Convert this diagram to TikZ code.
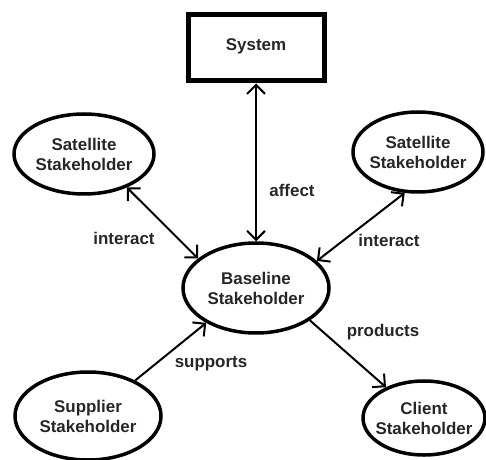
\documentclass[tikz,border=0pt]{standalone}
\usepackage{fontspec}
\setmainfont{Liberation Sans}
\usetikzlibrary{shapes.geometric,arrows.meta}
\begin{document}
\begin{tikzpicture}[x=1bp,y=-1bp,
  ell/.style={draw,ellipse,line width=3.5bp,inner sep=0pt},
  sysbox/.style={draw,rectangle,line width=5bp,inner sep=0pt,minimum width=136bp,minimum height=66bp},
  lbl/.style={font=\fontsize{17}{20}\selectfont\bfseries,align=center,text=black!85,inner sep=0pt},
  conn/.style={line width=2bp,arrows={-Straight Barb[length=9bp,width=18bp,line width=2bp]}},
  bconn/.style={line width=2bp,arrows={Straight Barb[length=9bp,width=18bp,line width=2bp]-Straight Barb[length=9bp,width=18bp,line width=2bp]}}]
\useasboundingbox (0,0) rectangle (486,460);
\node[sysbox] (sys) at (256,48) {};
\node[lbl] (syst) at (256,46) {System};
\node[ell,minimum width=140bp,minimum height=80bp] (ls) at (84,154) {};
\node[lbl] (lst) at (84,154) {Satellite\\Stakeholder};
\node[ell,minimum width=130bp,minimum height=80bp] (rs) at (418,152) {};
\node[lbl] (rst) at (418,152) {Satellite\\Stakeholder};
\node[ell,minimum width=146bp,minimum height=90bp] (base) at (256,288) {};
\node[lbl] (baset) at (256,288) {Baseline\\Stakeholder};
\node[ell,minimum width=146bp,minimum height=88bp] (sup) at (88,416) {};
\node[lbl] (supt) at (88,416) {Supplier\\Stakeholder};
\node[ell,minimum width=122bp,minimum height=74bp] (cl) at (424,418) {};
\node[lbl] (clt) at (424,418) {Client\\Stakeholder};
\draw[bconn] (sys.south) -- (base.north);
\draw[bconn] (ls.-38) -- (base.153);
\draw[bconn] (rs.-108) -- (base.24);
\draw[conn] (sup.37) -- (base.-145);
\draw[conn] (base.-31) -- (cl.141);
\node[lbl] (l1) at (292,190) {affect};
\node[lbl] (l2) at (124,238) {interact};
\node[lbl] (l3) at (389,240) {interact};
\node[lbl] (l4) at (211,364) {supports};
\node[lbl] (l5) at (383,332) {products};
\end{tikzpicture}
\end{document}
